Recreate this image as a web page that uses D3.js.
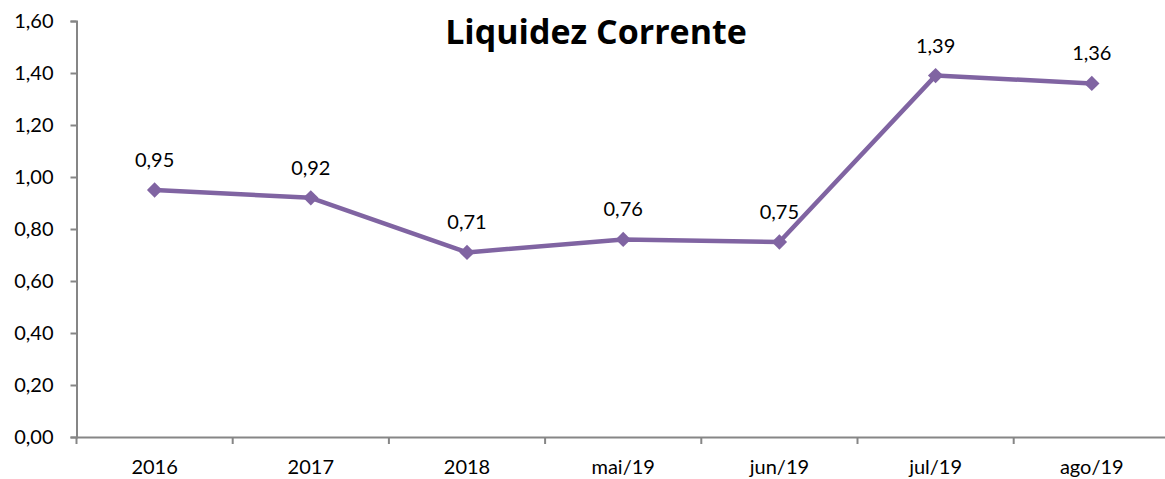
<!DOCTYPE html>
<html>
<head>
<meta charset="utf-8">
<script src="https://cdn.jsdelivr.net/npm/d3@7"></script>
<style>
  body { margin: 0; background: #fff; }
  svg text { font-family: Lato, "Open Sans", sans-serif; fill: #000; }
</style>
</head>
<body>
<svg class="graphic"></svg>
<script>
var categories = ["2016", "2017", "2018", "mai/19", "jun/19", "jul/19", "ago/19"];
var values = [0.95, 0.92, 0.71, 0.76, 0.75, 1.39, 1.36];
var yTicks = [0, 0.2, 0.4, 0.6, 0.8, 1.0, 1.2, 1.4, 1.6];

var width = 1165,
    height = 479,
    margin = {top: 21, left: 76.5, bottom: 42},
    plotRight = margin.left + 7 * 156.2,
    lineColour = "#8064a2",
    axisColour = "#868686";

var fmt = function(v) { return d3.format(".2f")(v).replace(".", ","); };

var svg = d3.select(".graphic")
    .attr("width", width)
    .attr("height", height);

var x = d3.scaleBand()
    .domain(categories)
    .range([margin.left, plotRight]);

var y = d3.scaleLinear()
    .domain([0, 1.6])
    .range([height - margin.bottom, margin.top]);

// y axis
var yAxis = svg.append("g")
    .attr("transform", "translate(" + margin.left + ",0)")
    .call(d3.axisLeft(y).tickValues(yTicks).tickSize(6).tickPadding(17).tickFormat(fmt));

// x axis
var xAxis = svg.append("g")
    .attr("transform", "translate(0," + y(0) + ")")
    .call(d3.axisBottom(x).tickSize(0).tickPadding(23));

// category boundary ticks
xAxis.selectAll(".sep")
    .data(d3.range(categories.length + 1))
    .enter()
    .append("line")
    .attr("class", "sep")
    .attr("x1", function(i) { return margin.left + i * x.step(); })
    .attr("x2", function(i) { return margin.left + i * x.step(); })
    .attr("y1", 0)
    .attr("y2", 7);

svg.selectAll(".domain, .tick line, .sep")
    .attr("stroke", axisColour)
    .attr("stroke-width", 2);
svg.selectAll(".tick text")
    .style("font-size", "20px")
    .attr("fill", "#000");

// line
var line = d3.line()
    .x(function(d, i) { return x(categories[i]) + x.bandwidth() / 2; })
    .y(function(d) { return y(d); });

svg.append("path")
    .datum(values)
    .attr("d", line)
    .attr("fill", "none")
    .attr("stroke", lineColour)
    .attr("stroke-width", 4.5)
    .attr("stroke-linejoin", "round");

// diamond markers
svg.selectAll(".marker")
    .data(values)
    .enter()
    .append("path")
    .attr("class", "marker")
    .attr("d", d3.symbol().type(d3.symbolDiamond2).size(150))
    .attr("transform", function(d, i) {
        return "translate(" + (x(categories[i]) + x.bandwidth() / 2) + "," + y(d) + ")"; })
    .attr("fill", lineColour);

// value labels
svg.selectAll(".label")
    .data(values)
    .enter()
    .append("text")
    .attr("class", "label")
    .attr("x", function(d, i) { return x(categories[i]) + x.bandwidth() / 2; })
    .attr("y", function(d) { return y(d) - 23; })
    .attr("text-anchor", "middle")
    .style("font-size", "20px")
    .text(fmt);

// title
svg.append("text")
    .attr("x", 596)
    .attr("y", 44)
    .attr("text-anchor", "middle")
    .style("font-family", "'Open Sans', sans-serif")
    .style("font-size", "34px")
    .style("font-weight", "bold")
    .text("Liquidez Corrente");
</script>
</body>
</html>
